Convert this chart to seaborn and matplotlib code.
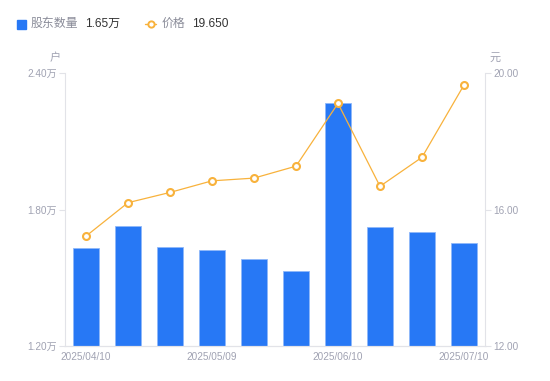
import numpy as np
import pandas as pd
import seaborn as sns
from matplotlib import pyplot as plt
from matplotlib.patches import Rectangle
from matplotlib.lines import Line2D

# data
dates = ['2025/04/10', '2025/04/18', '2025/04/30', '2025/05/09', '2025/05/20',
         '2025/05/30', '2025/06/10', '2025/06/20', '2025/06/30', '2025/07/10']
holders = [1.632, 1.729, 1.635, 1.622, 1.582, 1.528, 2.267, 1.722, 1.701, 1.653]  # 万户
prices = [15.22, 16.20, 16.50, 16.84, 16.92, 17.27, 19.11, 16.68, 17.53, 19.65]
tick_every = 3

sns.set_theme(style='white')
plt.rcParams['font.family'] = ['Liberation Sans', 'Noto Sans CJK SC', 'DejaVu Sans']

bar_color = '#2778f5'
line_color = '#f8b23c'
label_color = '#a0a2b2'
axis_color = '#e2e3e8'

df = pd.DataFrame({'date': dates, 'holders': holders, 'price': prices, 'idx': np.arange(len(dates))})

fig = plt.figure(figsize=(5.5, 3.81), dpi=100)
ax = fig.add_axes([65 / 550, 1 - 346 / 381, 420 / 550, 273 / 381])
ax2 = ax.twinx()

sns.barplot(data=df, x='date', y='holders', ax=ax, color=bar_color, width=0.6,
            saturation=1, edgecolor='#8fb8fa', linewidth=0.6)
sns.lineplot(data=df, x='idx', y='price', ax=ax2, color=line_color, linewidth=0.9,
             marker='o', markersize=5, markerfacecolor='white',
             markeredgecolor=line_color, markeredgewidth=1.5)

ax.set_xlim(-0.5, len(dates) - 0.5)
ax2.set_xlim(-0.5, len(dates) - 0.5)
ax.set_ylim(1.2, 2.4)
ax2.set_ylim(12, 20)

ax.set_yticks([1.2, 1.8, 2.4])
ax.set_yticklabels([f'{v:.2f}万' for v in [1.2, 1.8, 2.4]])
ax2.set_yticks([12, 16, 20])
ax2.set_yticklabels([f'{v:.2f}' for v in [12, 16, 20]])

ax.set_xticks(range(0, len(dates), tick_every))
ax.set_xticklabels(dates[::tick_every])

for a in (ax, ax2):
    a.set_xlabel('')
    a.set_ylabel('')
    for s in a.spines.values():
        s.set_color(axis_color)
        s.set_linewidth(0.8)
    a.spines['top'].set_visible(False)
    a.tick_params(colors=label_color, labelsize=7.2, length=4, width=0.8, color=axis_color, pad=2)
ax.spines['right'].set_visible(False)
ax2.spines['left'].set_visible(False)
ax.tick_params(axis='x', length=0, pad=4)

ax.text(-0.01, 1.055, '户', transform=ax.transAxes, ha='right', va='center',
        fontsize=8, color=label_color)
ax2.text(1.01, 1.055, '元', transform=ax2.transAxes, ha='left', va='center',
         fontsize=8, color=label_color)

# legend row
fig.add_artist(Rectangle((17 / 550, 1 - 29 / 381), 9 / 550, 9 / 381,
                         transform=fig.transFigure, color=bar_color))
fig.text(31 / 550, 1 - 24 / 381, '股东数量', color='#8a8c99', fontsize=8.6, va='center')
fig.text(85 / 550, 1 - 24 / 381, f'{holders[-1]:.2f}万', color='#333333', fontsize=8.6, va='center')
fig.add_artist(Line2D([145 / 550, 156 / 550], [1 - 24 / 381, 1 - 24 / 381], transform=fig.transFigure,
                      color=line_color, linewidth=1))
fig.add_artist(Line2D([150.5 / 550], [1 - 24 / 381], transform=fig.transFigure, color=line_color,
                      marker='o', markersize=4.5, markerfacecolor='white',
                      markeredgecolor=line_color, markeredgewidth=1.4, linestyle='none'))
fig.text(162 / 550, 1 - 24 / 381, '价格', color='#8a8c99', fontsize=8.6, va='center')
fig.text(192 / 550, 1 - 24 / 381, f'{prices[-1]:.3f}', color='#333333', fontsize=8.6, va='center')

fig.savefig('out.png', dpi=100)
